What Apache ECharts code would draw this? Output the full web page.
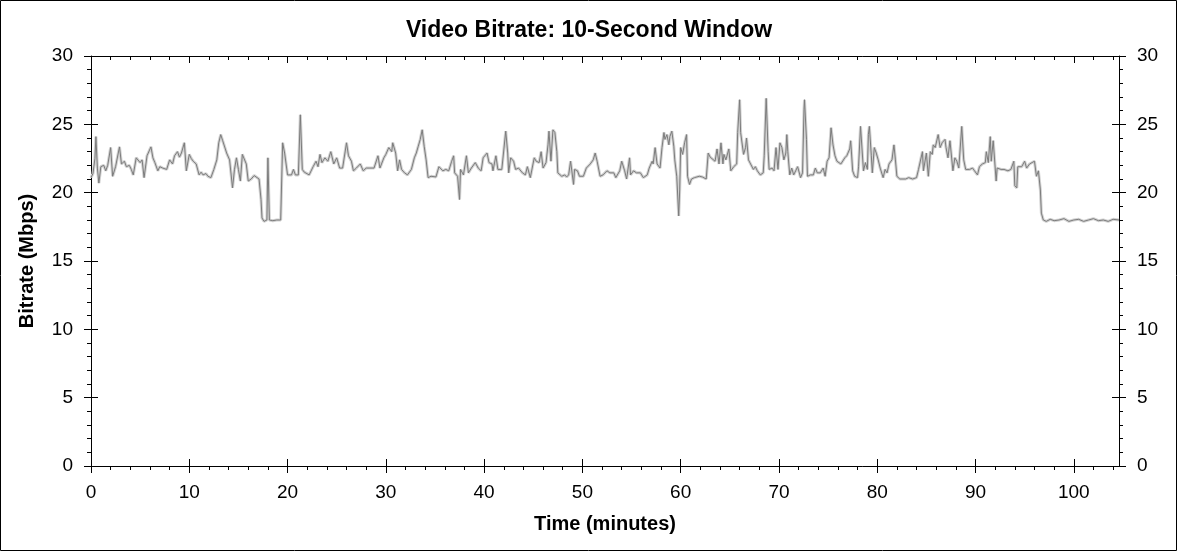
<!DOCTYPE html>
<html>
<head>
<meta charset="utf-8">
<script src="https://cdn.jsdelivr.net/npm/echarts@6/dist/echarts.min.js"></script>
<style>
html,body{margin:0;padding:0;background:#fff;}
#chart{width:1178px;height:552px;}
</style>
</head>
<body>
<div id="chart"></div>
<script>
const chartTitle = 'Video Bitrate: 10-Second Window';
const xAxisTitle = 'Time (minutes)';
const yAxisTitle = 'Bitrate (Mbps)';
const xMajorTicks = [0, 10, 20, 30, 40, 50, 60, 70, 80, 90, 100];
const xMinorTicks = [2,4,6,8,12,14,16,18,22,24,26,28,32,34,36,38,42,44,46,48,52,54,56,58,62,64,66,68,72,74,76,78,82,84,86,88,92,94,96,98,102,104];
const xMax = 104.6;
const yMin = 0, yMax = 30, yStep = 5;

const timeMinutes = [
0.0,0.2,0.4,0.5,0.65,0.8,1.0,1.3,1.5,1.7,2.0,2.2,2.5,2.9,3.1,3.4,3.6,3.9,4.1,4.3,4.6,5.0,5.2,5.4,5.7,6.1,6.3,6.5,6.8,7.0,
7.3,7.5,7.7,8.0,8.3,8.5,8.8,9.0,9.2,9.5,9.7,10.0,10.2,10.4,10.7,11.0,11.2,11.4,11.7,11.9,12.2,12.5,12.8,13.0,13.2,13.4,13.6,13.8,14.0,14.1,
14.4,14.6,14.8,15.0,15.2,15.4,15.6,15.8,16.0,16.3,16.6,16.8,17.1,17.3,17.4,17.6,17.9,18.0,18.15,18.5,18.9,19.3,19.5,19.7,19.9,20.0,20.2,20.4,20.6,20.8,
21.1,21.3,21.5,21.7,21.9,22.2,22.6,22.9,23.1,23.3,23.5,23.8,24.1,24.4,24.7,25.0,25.3,25.6,26.0,26.2,26.5,26.7,27.0,27.2,27.4,27.7,28.0,28.3,28.5,28.8,
29.0,29.2,29.4,29.8,30.0,30.3,30.6,30.7,31.0,31.2,31.4,31.6,31.9,32.2,32.6,32.9,33.1,33.3,33.5,33.7,33.9,34.1,34.3,34.6,35.1,35.4,35.8,36.1,36.4,36.7,
36.9,37.0,37.3,37.5,37.6,37.9,38.2,38.4,38.7,39.1,39.4,39.7,39.9,40.3,40.5,40.8,40.9,41.2,41.4,41.8,42.0,42.2,42.4,42.5,42.7,43.0,43.2,43.5,43.9,44.2,
44.4,44.7,44.8,45.1,45.3,45.6,45.8,46.0,46.3,46.5,46.6,46.8,47.0,47.2,47.4,47.5,47.9,48.2,48.4,48.6,48.8,49.1,49.2,49.5,49.7,50.1,50.4,50.8,51.1,51.3,
51.5,51.8,52.1,52.5,52.8,53.2,53.4,53.8,54.0,54.3,54.5,54.8,54.9,55.2,55.5,55.9,56.2,56.6,56.8,57.1,57.2,57.4,57.6,57.9,58.1,58.3,58.4,58.6,58.8,58.9,
59.1,59.3,59.4,59.6,59.8,59.9,60.0,60.2,60.4,60.6,60.7,60.9,61.1,61.4,61.6,61.9,62.2,62.6,62.8,63.0,63.2,63.5,63.7,63.9,64.1,64.3,64.4,64.6,64.9,65.1,
65.4,65.7,65.8,66.0,66.1,66.4,66.6,66.7,66.9,67.1,67.4,67.6,67.8,68.1,68.4,68.5,68.7,68.9,69.0,69.3,69.5,69.7,69.9,70.1,70.3,70.5,70.7,70.8,70.9,71.1,
71.3,71.5,71.7,71.9,72.2,72.4,72.55,72.6,72.8,72.9,73.2,73.5,73.7,73.9,74.2,74.5,74.7,74.9,75.1,75.3,75.5,75.7,75.9,76.3,76.5,76.7,76.9,77.2,77.3,77.5,
77.7,78.0,78.1,78.3,78.5,78.6,78.8,79.0,79.1,79.2,79.4,79.5,79.7,79.9,80.1,80.3,80.6,80.8,81.0,81.2,81.5,81.7,81.85,82.0,82.3,82.5,82.9,83.2,83.6,84.0,
84.2,84.6,84.7,85.0,85.2,85.4,85.6,85.7,85.9,86.2,86.4,86.6,86.9,87.0,87.2,87.4,87.7,87.9,88.1,88.3,88.6,88.8,89.0,89.4,89.7,89.9,90.2,90.4,90.7,91.0,
91.1,91.3,91.5,91.6,91.8,92.1,92.2,92.6,92.9,93.3,93.6,93.9,94.0,94.2,94.3,94.7,95.0,95.2,95.5,95.7,96.0,96.2,96.4,96.6,96.7,96.9,97.2,97.6,98.0,98.5,
99.0,99.5,100.0,100.5,101.0,101.5,102.0,102.5,103.0,103.5,104.0,104.6
];

const bitrateMbps = [
21.1,21.4,22.5,24.1,21.8,20.7,21.9,22.0,21.6,22.0,23.3,21.2,21.9,23.35,22.1,22.3,21.9,22.0,21.7,21.3,22.55,22.2,22.4,21.1,22.7,23.35,22.55,22.2,21.6,21.9,
21.8,21.9,21.7,22.4,22.1,22.7,23.0,22.6,22.9,23.65,21.6,22.8,22.5,22.3,22.1,21.3,21.5,21.3,21.4,21.2,21.1,21.7,22.4,23.65,24.25,23.8,23.9,22.9,23.0,22.4,
20.35,21.7,22.55,21.7,20.85,22.8,22.8,22.1,20.85,21.0,21.25,21.3,21.0,19.5,18.15,17.9,18.0,22.55,18.0,17.95,18.0,18.0,23.65,22.9,23.0,21.3,21.2,21.3,21.7,21.3,
21.3,25.7,21.7,21.5,21.6,21.3,21.9,22.3,21.9,22.8,22.2,22.55,22.3,23.0,22.1,22.55,21.8,21.8,23.65,22.7,22.3,21.6,21.8,21.7,22.1,21.6,21.8,21.8,21.7,21.8,
21.7,22.7,21.8,22.55,22.8,23.3,23.0,23.65,22.9,21.6,22.4,21.7,21.45,21.3,21.7,22.55,22.9,23.4,23.9,24.6,23.4,22.4,21.1,21.2,21.15,21.9,21.6,21.7,21.6,22.3,
22.7,21.45,21.2,19.5,21.7,21.3,22.7,21.45,21.8,22.2,21.8,21.6,22.55,22.9,22.2,22.1,21.6,22.7,21.7,21.7,21.8,24.5,22.9,21.45,22.55,22.3,21.7,21.8,21.45,21.3,
21.9,21.1,21.2,22.55,22.3,22.2,23.0,21.8,22.2,23.5,24.5,22.3,24.6,24.4,23.0,21.45,21.2,21.3,21.15,21.3,22.3,20.6,21.7,21.6,21.2,21.2,21.8,22.1,22.4,22.9,
22.3,21.2,21.3,21.6,21.45,21.45,21.1,21.6,22.3,21.6,21.0,22.55,21.3,21.6,21.45,21.45,21.1,21.3,21.8,22.3,22.1,23.3,22.1,21.8,23.3,24.4,23.9,24.25,23.5,24.1,
24.5,23.4,22.4,21.2,18.3,20.2,23.3,22.8,23.65,24.25,21.2,20.6,21.0,21.1,21.1,21.2,21.15,21.0,22.9,22.6,22.7,22.3,23.2,22.1,23.65,22.1,22.8,22.4,23.2,21.6,
21.9,22.1,24.4,26.8,24.4,22.8,23.3,24.0,22.4,22.4,21.7,21.9,21.6,21.3,21.45,22.7,26.9,23.0,21.7,21.8,21.6,23.3,21.7,23.65,23.3,22.4,22.9,24.25,23.0,21.3,
21.8,21.3,21.6,21.9,21.1,21.45,26.1,26.8,23.9,21.2,21.3,21.3,21.8,21.45,21.45,21.8,21.2,22.3,22.55,24.75,23.5,22.7,22.3,22.1,22.1,22.55,22.7,23.2,23.8,21.6,
21.2,21.1,21.9,24.85,24.85,21.6,22.2,21.7,24.25,24.85,22.7,21.45,23.3,22.9,22.4,21.8,21.1,21.7,21.45,22.1,22.4,23.5,22.4,21.2,21.0,21.1,21.0,21.1,21.0,21.1,
21.7,23.0,21.6,22.9,21.2,23.0,22.8,23.5,23.3,24.25,23.3,23.65,23.9,23.3,22.55,23.8,21.6,22.55,22.3,21.8,24.85,22.4,21.7,21.7,21.8,21.6,21.3,21.9,22.1,22.2,
23.0,22.2,24.1,22.3,23.8,20.85,21.8,21.7,21.7,21.6,21.7,22.3,20.5,20.35,21.9,21.9,22.3,21.8,22.1,22.2,22.3,21.2,21.6,20.2,18.5,18.0,17.9,18.05,17.95,18.0,
18.1,17.9,18.0,18.05,17.9,18.0,18.1,17.95,18.0,17.9,18.05,18.0
];

const seriesData = timeMinutes.map((t, i) => [t, bitrateMbps[i]]);

const FONT = '"Liberation Sans", Arial, sans-serif';
const black = '#000';

function baseX(extra) {
  return Object.assign({
    type: 'value', min: 0, max: xMax, position: 'bottom',
    axisLine: { show: false, onZero: false },
    axisLabel: { show: false },
    axisTick: { show: false },
    splitLine: { show: false },
    minorTick: { show: false },
    axisPointer: { show: false }
  }, extra);
}
function baseY(extra) {
  return Object.assign({
    type: 'value', min: yMin, max: yMax, interval: yStep, position: 'left',
    axisLine: { show: false, onZero: false },
    axisLabel: { show: false },
    axisTick: { show: false },
    splitLine: { show: false },
    minorTick: { show: false }
  }, extra);
}

const chart = echarts.init(document.getElementById('chart'), null, { renderer: 'canvas' });
chart.setOption({
  backgroundColor: '#fff',
  animation: false,
  title: {
    text: chartTitle, left: 'center', top: 14,
    textStyle: { fontFamily: FONT, fontSize: 23, fontWeight: 'bold', color: black }
  },
  grid: { left: 91, right: 59, top: 56, bottom: 86, containLabel: false },
  xAxis: [
    baseX({
      axisLine: { show: true, onZero: false, lineStyle: { color: black, width: 1 } },
      axisLabel: { show: true, customValues: xMajorTicks, margin: 17, color: black, fontFamily: FONT, fontSize: 19 },
      axisTick: { show: true, customValues: xMajorTicks, inside: false, length: 7, lineStyle: { color: black } },
      name: xAxisTitle, nameLocation: 'middle', nameGap: 48,
      nameTextStyle: { fontFamily: FONT, fontSize: 20, fontWeight: 'bold', color: black }
    }),
    baseX({ axisTick: { show: true, customValues: xMajorTicks, inside: true, length: 7, lineStyle: { color: black } } }),
    baseX({ axisTick: { show: true, customValues: xMinorTicks, inside: false, length: 4, lineStyle: { color: black } } }),
    baseX({ position: 'top',
      axisLine: { show: true, onZero: false, lineStyle: { color: black, width: 1 } },
      axisTick: { show: true, customValues: xMajorTicks, inside: true, length: 7, lineStyle: { color: black } } }),
    baseX({ position: 'top', axisTick: { show: true, customValues: xMinorTicks, inside: true, length: 4, lineStyle: { color: black } } })
  ],
  yAxis: [
    baseY({
      axisLine: { show: true, onZero: false, lineStyle: { color: black, width: 1 } },
      axisLabel: { show: true, margin: 18, color: black, fontFamily: FONT, fontSize: 19 },
      axisTick: { show: true, inside: false, length: 7, lineStyle: { color: black } },
      minorTick: { show: true, splitNumber: 5, length: 4, lineStyle: { color: black } },
      name: yAxisTitle, nameLocation: 'middle', nameGap: 54, nameRotate: 90,
      nameTextStyle: { fontFamily: FONT, fontSize: 20, fontWeight: 'bold', color: black }
    }),
    baseY({ axisTick: { show: true, inside: true, length: 7, lineStyle: { color: black } } }),
    baseY({ position: 'right',
      axisLine: { show: true, onZero: false, lineStyle: { color: black, width: 1 } },
      axisLabel: { show: true, margin: 18, color: black, fontFamily: FONT, fontSize: 19 },
      axisTick: { show: true, inside: false, length: 7, lineStyle: { color: black } },
      minorTick: { show: true, splitNumber: 5, length: 4, lineStyle: { color: black } } }),
    baseY({ position: 'right', axisTick: { show: true, inside: true, length: 7, lineStyle: { color: black } } })
  ],
  series: [
    { type: 'line', xAxisIndex: 0, yAxisIndex: 0, data: seriesData, showSymbol: false, symbol: 'none',
      lineStyle: { color: '#d2d2d2', width: 3 }, silent: true, z: 1 },
    { type: 'line', xAxisIndex: 0, yAxisIndex: 0, data: seriesData, showSymbol: false, symbol: 'none',
      lineStyle: { color: '#7c7c7c', width: 1 }, silent: true, z: 2 }
  ],
  graphic: [
    { type: 'rect', shape: { x: 0.5, y: 0.5, width: 1176, height: 550 },
      style: { fill: 'none', stroke: black, lineWidth: 1 }, silent: true, z: 100 }
  ]
});
</script>
</body>
</html>
